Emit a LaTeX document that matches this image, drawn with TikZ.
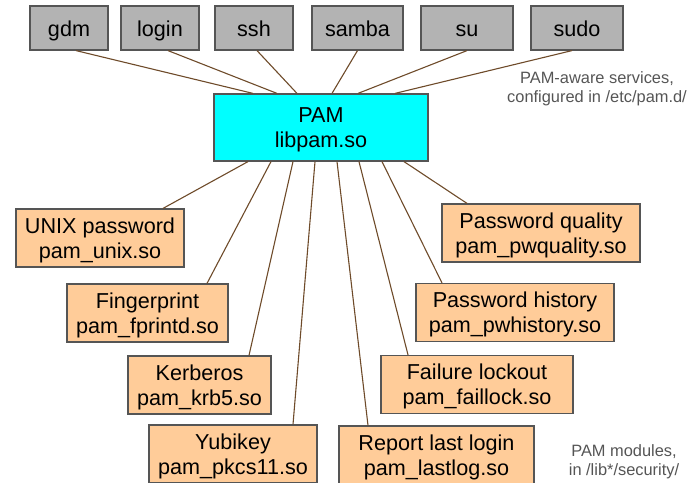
\documentclass[tikz,border=0pt]{standalone}
\usepackage{fontspec}
\setmainfont{Liberation Sans}
\usetikzlibrary{calc}

\definecolor{svcgray}{HTML}{B3B3B3}
\definecolor{pamcyan}{HTML}{00FFFF}
\definecolor{modpeach}{HTML}{FFCC99}
\definecolor{linkbrown}{HTML}{6E4B2A}
\definecolor{boxedge}{HTML}{555555}
\definecolor{notegray}{HTML}{555555}

\tikzset{
  service/.style={draw=boxedge, fill=svcgray, line width=1.2pt, minimum height=44pt,
    inner sep=0pt, text height=20pt, text depth=4pt, font=\fontsize{21.6}{25}\selectfont},
  module/.style={draw=boxedge, fill=modpeach, line width=1.2pt, minimum height=58pt,
    inner sep=0pt, text depth=0pt, align=center, font=\fontsize{21.6}{25}\selectfont},
  link/.style={draw=linkbrown, line width=1.1pt},
  note/.style={text=notegray, align=center, font=\fontsize{16.4}{18.5}\selectfont}
}

\begin{document}
\begin{tikzpicture}[x=1pt, y=-1pt]
    \useasboundingbox (0, 0) rectangle (688, 482);
    % PAM-aware services
    \node[service, minimum width=78pt] (gdm) at (69, 28) {gdm};
    \node[service, minimum width=78pt] (login) at (160, 28) {login};
    \node[service, minimum width=78pt] (ssh) at (254, 28) {ssh};
    \node[service, minimum width=91pt] (samba) at (357.5, 28) {samba};
    \node[service, minimum width=92pt] (su) at (467, 28) {su};
    \node[service, minimum width=92pt] (sudo) at (577, 28) {sudo};
    % The library itself
    \node[module, fill=pamcyan, minimum width=214pt, minimum height=67pt]
      (pam) at (321, 127.5) {PAM\\libpam.so};
    % Modules
    \node[module, minimum width=168pt] (unix) at (100, 238) {UNIX password\\pam\_unix.so};
    \node[module, minimum width=161pt] (fprintd) at (147.5, 313) {Fingerprint\\pam\_fprintd.so};
    \node[module, minimum width=143pt] (krb) at (199.5, 385) {Kerberos\\pam\_krb5.so};
    \node[module, minimum width=168pt] (pkcs) at (233, 454) {Yubikey\\pam\_pkcs11.so};
    \node[module, minimum width=195pt] (lastlog) at (436.5, 455) {Report last login\\pam\_lastlog.so};
    \node[module, minimum width=192pt] (faillock) at (477, 384.5) {Failure lockout\\pam\_faillock.so};
    \node[module, minimum width=198pt] (pwhist) at (515, 312.5) {Password history\\pam\_pwhistory.so};
    \node[module, minimum width=198pt] (pwqual) at (541, 233) {Password quality\\pam\_pwquality.so};
    % Services -> PAM
    \foreach \s/\a/\b in {gdm/7/-68, login/8/-44, ssh/3/-24, samba/0/11, su/0/37, sudo/-5/74}{
      \draw[link] ([xshift=\a pt]\s.south) -- ([xshift=\b pt]pam.north);
    }
    % PAM -> modules
    \foreach \m/\a/\b in {unix/-73/63, fprintd/-50/59.5, krb/-28/49.5, pkcs/-6/60,
                          lastlog/16/-68.5, faillock/38/-69, pwhist/61/-73, pwqual/83/-74}{
      \draw[link] ([xshift=\a pt]pam.south) -- ([xshift=\b pt]\m.north);
    }
    % Notes
    \node[note] (svcnote) at (597, 89) {PAM-aware services,\\configured in /etc/pam.d/};
    \node[note] (modnote) at (624, 462) {PAM modules,\\in /lib*/security/};
  \end{tikzpicture}
\end{document}
